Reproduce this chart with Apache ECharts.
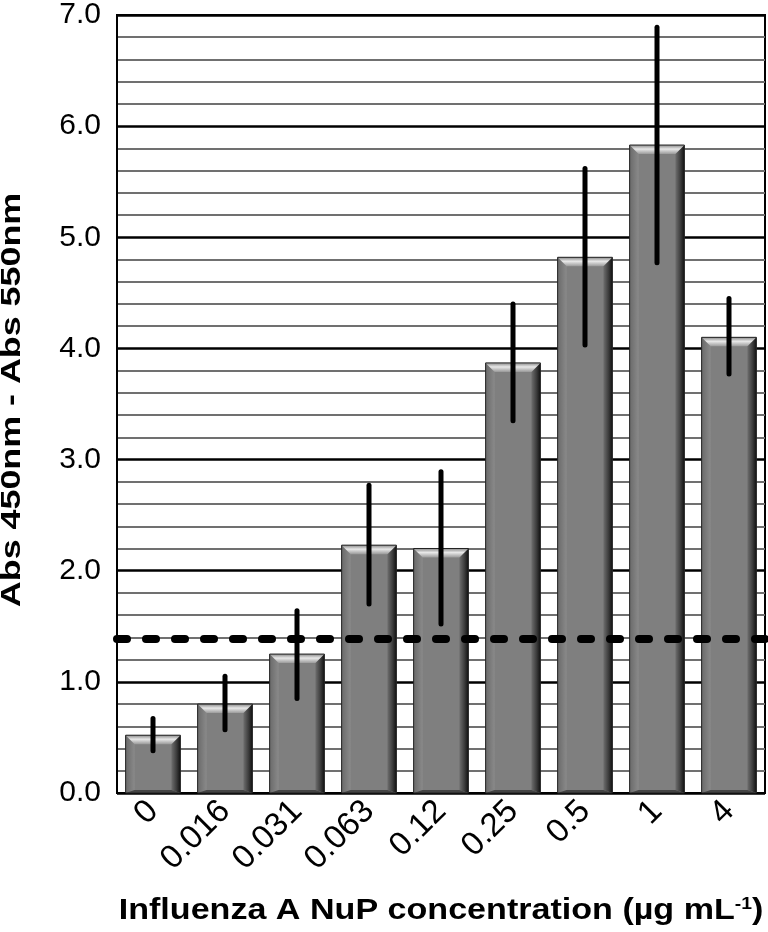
<!DOCTYPE html>
<html><head><meta charset="utf-8">
<script src="https://cdn.jsdelivr.net/npm/echarts@6/dist/echarts.min.js"></script>
<style>html,body{margin:0;padding:0;background:#fff}#c{width:768px;height:932px}</style>
</head><body><div id="c"></div>
<script>
var categories = ['0','0.016','0.031','0.063','0.12','0.25','0.5','1','4'];
var means = [0.52, 0.80, 1.25, 2.23, 2.20, 3.87, 4.82, 5.83, 4.10];
var errLow = [0.38, 0.57, 0.85, 1.70, 1.52, 3.35, 4.03, 4.77, 3.77];
var errHigh = [0.67, 1.05, 1.64, 2.77, 2.89, 4.40, 5.62, 6.89, 4.45];
var cutoff = 1.39;
var yTicks = [0, 1, 2, 3, 4, 5, 6, 7];
var yTitle = 'Abs 450nm - Abs 550nm';
var xTitleMain = 'Influenza A NuP concentration (µg mL';
var xTitleSup = '-1';

var barData = means.map(function(v, i){ return [i, v]; });
var errData = means.map(function(v, i){ return [i, errLow[i], errHigh[i]]; });

function renderBar(params, api){
  var i = api.value(0), v = api.value(1);
  var top = api.coord([i, v]);
  var base = api.coord([i, 0]);
  var w = api.size([1, 0])[0] * 0.76;
  var x0 = top[0] - w/2, x1 = top[0] + w/2, y0 = top[1], yb = base[1];
  var b = 9;
  return {type:'group', children:[
    {type:'rect', shape:{x:x0, y:y0, width:w, height:yb-y0}, style:{fill:'#7f7f7f'}},
    {type:'polygon', shape:{points:[[x0,y0],[x0+b,y0+b],[x0+b,yb-3],[x0,yb]]},
      style:{fill:{type:'linear',x:0,y:0,x2:1,y2:0,colorStops:[{offset:0,color:'#6a6a6a'},{offset:1,color:'#8a8a8a'}]}}},
    {type:'polygon', shape:{points:[[x1,y0],[x1-b,y0+b],[x1-b,yb-3],[x1,yb]]},
      style:{fill:{type:'linear',x:0,y:0,x2:1,y2:0,colorStops:[{offset:0,color:'#6f6f6f'},{offset:0.6,color:'#3a3a3a'},{offset:1,color:'#111'}]}}},
    {type:'polygon', shape:{points:[[x0,yb],[x1,yb],[x1-b,yb-3],[x0+b,yb-3]]}, style:{fill:'#444'}},
    {type:'polygon', shape:{points:[[x0,y0],[x1,y0],[x1-b,y0+b],[x0+b,y0+b]]},
      style:{fill:{type:'linear',x:0,y:0,x2:0,y2:1,colorStops:[{offset:0,color:'#8a8a8a'},{offset:0.45,color:'#e8e8e8'},{offset:1,color:'#9a9a9a'}]}}},
    {type:'rect', shape:{x:x0, y:y0, width:w, height:yb-y0}, style:{fill:'none', stroke:'#222', lineWidth:1}}
  ]};
}

function renderErr(params, api){
  var i = api.value(0);
  var lo = api.coord([i, api.value(1)]);
  var hi = api.coord([i, api.value(2)]);
  return {type:'line', shape:{x1:lo[0], y1:lo[1], x2:hi[0], y2:hi[1]},
    style:{stroke:'#000', lineWidth:5, lineCap:'round'}};
}

var chart = echarts.init(document.getElementById('c'));
chart.setOption({
  animation:false,
  backgroundColor:'#fff',
  grid:{left:117, right:3, top:14, bottom:139, show:true, borderColor:'#000', borderWidth:2},
  xAxis:{type:'category', data:categories,
    axisLine:{lineStyle:{color:'#000', width:2}}, axisTick:{show:false},
    axisLabel:{rotate:45, fontFamily:'Liberation Sans', fontSize:33, color:'#000', margin:13}
  },
  yAxis:{type:'value', min:0, max:7, interval:1,
    axisLine:{show:true, lineStyle:{color:'#000', width:2}}, axisTick:{show:false},
    axisLabel:{fontFamily:'Liberation Sans', fontSize:30, color:'#000', margin:16,
      formatter:function(v){ return yTicks.indexOf(v) >= 0 ? v.toFixed(1) : ''; }},
    splitLine:{show:true, lineStyle:{color:'#000', width:2.5}},
    minorTick:{show:false, splitNumber:5},
    minorSplitLine:{show:true, lineStyle:{color:'#707070', width:2}}
  },
  graphic:[
    {type:'text', x:12, y:400, rotation:Math.PI/2, scaleX:1.28, z:10,
      style:{text:yTitle, fontFamily:'Liberation Sans', fontWeight:'bold', fontSize:28, fill:'#000',
        align:'center', verticalAlign:'middle', textAlign:'center', textVerticalAlign:'middle'}},
    {type:'text', x:441, y:911, scaleX:1.136, z:10,
      style:{text:'{a|' + xTitleMain + '}{s|' + xTitleSup + '}{a|)}',
        align:'center', verticalAlign:'middle', textAlign:'center', textVerticalAlign:'middle',
        rich:{a:{fontFamily:'Liberation Sans', fontWeight:'bold', fontSize:30, fill:'#000'},
          s:{fontFamily:'Liberation Sans', fontWeight:'bold', fontSize:17, fill:'#000', padding:[0,0,14,0]}}}}
  ],
  series:[
    {type:'custom', renderItem:renderBar, data:barData, encode:{x:0, y:1}, z:2},
    {type:'line', data:[], z:3, silent:true,
      markLine:{silent:true, symbol:'none', label:{show:false}, animation:false,
        lineStyle:{color:'#000', width:8, type:[10,19], cap:'round'},
        data:[{yAxis:cutoff}]}},
    {type:'custom', renderItem:renderErr, data:errData, encode:{x:0, y:[1,2]}, z:4}
  ]
});
</script></body></html>
